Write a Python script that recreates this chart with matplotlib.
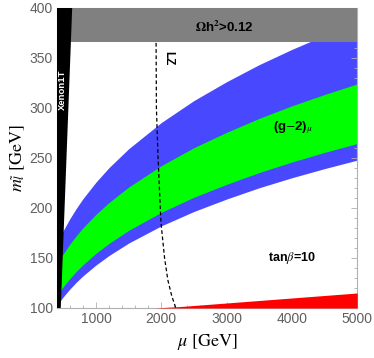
import numpy as np
import matplotlib
matplotlib.use("Agg")
from matplotlib import pyplot as plt
from matplotlib.ticker import MultipleLocator

# (g-2) 2 sigma band (blue) and 1 sigma band (green), mu [GeV] vs m_slepton [GeV]
mu_grid = [450, 500, 600, 700, 800, 1000, 1200, 1500, 2000, 2500, 3000, 3500, 4000, 4500, 5000]
m_blue_up = [171.1, 177.7, 189.4, 199.8, 209.3, 225.9, 240.4, 259.2, 285.4, 307.4,
             326.2, 343.3, 358.5, 372.4, 385.4]
m_blue_lo = [107.0, 111.3, 119.0, 125.9, 132.1, 143.0, 152.5, 164.9, 182.1, 196.5,
             208.9, 220.2, 230.2, 239.3, 247.8]
m_green_up = [149.0, 154.3, 163.9, 172.4, 180.2, 193.7, 205.5, 220.9, 242.3, 260.3,
              275.6, 289.6, 302.1, 313.4, 324.0]
m_green_lo = [117.0, 121.5, 129.5, 136.7, 143.2, 154.7, 164.6, 177.6, 195.6, 210.7,
              223.6, 235.4, 245.9, 255.5, 264.4]

# LZ projection (dashed)
mu_lz = [1920, 1925, 1950, 1995, 2050, 2100, 2160, 2222]
m_lz = [365, 300, 250, 185, 150, 128, 112, 100]

# red excluded strip at the bottom
mu_red = [1900, 2300, 3000, 4000, 5000]
m_red = [100, 101.5, 105, 110, 115]

# Xenon1T excluded (black) boundary
mu_xe = [460, 635]
m_xe = [100, 400]

# relic density limit
m_relic = 365.5

xmin, xmax = 400, 5000
ymin, ymax = 100, 400

plt.rcParams['mathtext.fontset'] = 'stix'

fig = plt.figure(figsize=(3.74, 3.58), dpi=100)
ax = fig.add_axes([0.152, 0.1397, 0.803, 0.8383])

ax.fill_between(mu_grid, m_blue_lo, m_blue_up, color='#4848ff', lw=0, zorder=1)
ax.fill_between(mu_grid, m_green_lo, m_green_up, color='#00ff00', lw=0, zorder=2)
ax.fill_between(mu_red, ymin, m_red, color='#ff0000', lw=0, zorder=3)
ax.plot(mu_lz, m_lz, color='black', ls=(0, (3, 2)), lw=0.9, zorder=4)
ax.fill_between([xmin, xmax], m_relic, ymax, color='#808080', lw=0, zorder=5)
ax.fill([xmin] + mu_xe + [xmin], [ymin] + m_xe + [ymax], color='black', lw=0, zorder=6)

bold = dict(family='Liberation Sans', fontweight='bold')
ax.text(478, 318, 'Xenon1T', color='white', rotation=90, ha='center', va='center',
        fontsize=6.8, zorder=7, **bold)
ax.text(2100, 350, 'LZ', color='black', rotation=-90, ha='center', va='center',
        fontsize=8.5, zorder=7, **bold)
ax.text(2970, 380, r'$\mathbf{\Omega}$h$^\mathbf{2}$>0.12', color='black', ha='center',
        va='center', fontsize=9.5, zorder=7, **bold)
ax.text(4010, 280, r'(g$-$2)$_{\mu}$', color='black', ha='center', va='center',
        fontsize=9.5, zorder=7, **bold)
ax.text(4000, 150, r'tan$\beta$=10', color='black', ha='center', va='center',
        fontsize=9, zorder=7, **bold)

ax.set_xlim(xmin, xmax)
ax.set_ylim(ymin, ymax)
ax.set_xticks([1000, 2000, 3000, 4000, 5000])
ax.set_yticks([100, 150, 200, 250, 300, 350, 400])
ax.xaxis.set_minor_locator(MultipleLocator(200))
ax.yaxis.set_minor_locator(MultipleLocator(10))
ax.tick_params(which='both', direction='in', top=True, right=True, color='#b0b0b0', width=0.6)
ax.tick_params(which='major', length=4, labelsize=10, labelcolor='#606060', pad=3)
ax.tick_params(which='minor', length=2)
for lab in ax.get_xticklabels() + ax.get_yticklabels():
    lab.set_family('Liberation Sans')
for sp in ax.spines.values():
    sp.set_color('#b0b0b0')
    sp.set_linewidth(0.8)

ax.set_xlabel(r'$\mu\ [\mathrm{GeV}]$', fontsize=13, labelpad=4)
ax.set_ylabel(r'$m_{\tilde{l}}\ [\mathrm{GeV}]$', fontsize=13, labelpad=2)

fig.savefig('out.png', dpi=100)
